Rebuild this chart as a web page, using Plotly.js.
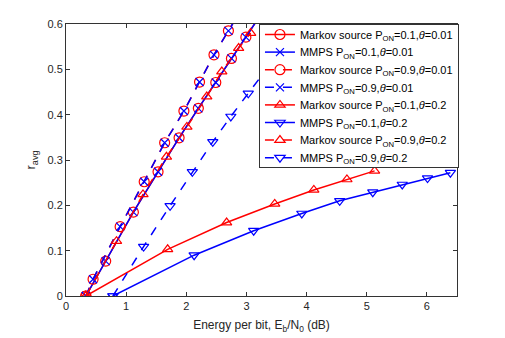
<!DOCTYPE html>
<html>
<head>
<meta charset="utf-8">
<script src="https://cdn.plot.ly/plotly-3.0.1.min.js"></script>
<style>
  body { margin: 0; background: #fff; }
  #graphDiv { width: 505px; height: 338px; }
</style>
</head>
<body>
<div id="graphDiv"></div>
<script>
// Markov source / MMPS, P_ON = 0.1, theta = 0.01 (solid)
var x_p1_t001 = [0.33, 0.66, 1.12, 1.53, 1.88, 2.20, 2.49, 2.75, 2.99, 3.21];
var y_p1_t001 = [0, 0.077, 0.185, 0.274, 0.349, 0.414, 0.471, 0.524, 0.571, 0.615];

// P_ON = 0.9, theta = 0.01 (dashed)
var x_p9_t001 = [0.33, 0.45, 0.90, 1.30, 1.64, 1.96, 2.22, 2.46, 2.70, 2.91];
var y_p9_t001 = [0, 0.037, 0.153, 0.252, 0.338, 0.408, 0.472, 0.532, 0.585, 0.631];

// Markov source P_ON = 0.1, theta = 0.2
var x_mk_p1_t02 = [0.33, 1.69, 2.67, 3.47, 4.12, 4.67, 5.13];
var y_mk_p1_t02 = [0, 0.103, 0.162, 0.203, 0.234, 0.257, 0.276];

// MMPS P_ON = 0.1, theta = 0.2
var x_mm_p1_t02 = [0.78, 2.13, 3.12, 3.92, 4.55, 5.10, 5.59, 6.01, 6.39];
var y_mm_p1_t02 = [0, 0.090, 0.144, 0.182, 0.210, 0.229, 0.246, 0.260, 0.272];

// Markov source P_ON = 0.9, theta = 0.2
var x_mk_p9_t02 = [0.33, 0.84, 1.28, 1.67, 2.01, 2.34, 2.59, 2.87, 3.07];
var y_mk_p9_t02 = [0, 0.121, 0.224, 0.307, 0.373, 0.440, 0.495, 0.547, 0.580];

// MMPS P_ON = 0.9, theta = 0.2
var x_mm_p9_t02 = [0.78, 1.29, 1.73, 2.10, 2.44, 2.74, 3.03, 3.33];
var y_mm_p9_t02 = [0, 0.109, 0.199, 0.274, 0.340, 0.396, 0.447, 0.50];

var RED = '#ff0000', BLUE = '#0000ff';

function tr(x, y, name, color, dash, symbol, size) {
    return {
        x: x, y: y, name: name, type: 'scatter', mode: 'lines+markers',
        line: {color: color, width: 1.5, dash: dash},
        marker: {symbol: symbol, size: size, color: color, line: {color: color, width: 1.2}}
    };
}

var data = [
    tr(x_p1_t001, y_p1_t001, 'Markov source P<sub>ON</sub>=0.1,<i>θ</i>=0.01', RED, 'solid', 'circle-open', 10),
    tr(x_p1_t001, y_p1_t001, 'MMPS P<sub>ON</sub>=0.1,<i>θ</i>=0.01', BLUE, 'solid', 'x-thin-open', 8),
    tr(x_p9_t001, y_p9_t001, 'Markov source P<sub>ON</sub>=0.9,<i>θ</i>=0.01', RED, 'dash', 'circle-open', 10),
    tr(x_p9_t001, y_p9_t001, 'MMPS P<sub>ON</sub>=0.9,<i>θ</i>=0.01', BLUE, 'dash', 'x-thin-open', 8),
    tr(x_mk_p1_t02, y_mk_p1_t02, 'Markov source P<sub>ON</sub>=0.1,<i>θ</i>=0.2', RED, 'solid', 'triangle-up-open', 9),
    tr(x_mm_p1_t02, y_mm_p1_t02, 'MMPS P<sub>ON</sub>=0.1,<i>θ</i>=0.2', BLUE, 'solid', 'triangle-down-open', 9),
    tr(x_mk_p9_t02, y_mk_p9_t02, 'Markov source P<sub>ON</sub>=0.9,<i>θ</i>=0.2', RED, 'dash', 'triangle-up-open', 9),
    tr(x_mm_p9_t02, y_mm_p9_t02, 'MMPS P<sub>ON</sub>=0.9,<i>θ</i>=0.2', BLUE, 'dash', 'triangle-down-open', 9)
];

var axisStyle = {
    showline: true, mirror: 'ticks', linecolor: '#333', linewidth: 1,
    ticks: 'inside', ticklen: 4, tickcolor: '#333',
    showgrid: false, zeroline: false,
    tickfont: {size: 11, color: '#262626'}
};

var layout = {
    width: 505, height: 338,
    margin: {l: 66, r: 48, t: 24, b: 42},
    paper_bgcolor: '#fff', plot_bgcolor: '#fff',
    font: {family: 'Liberation Sans, Arial, sans-serif', color: '#262626'},
    showlegend: true,
    xaxis: Object.assign({}, axisStyle, {
        range: [0, 6.5], tickvals: [0, 1, 2, 3, 4, 5, 6],
        title: {text: 'Energy per bit, E<sub>b</sub>/N<sub>0</sub> (dB)', font: {size: 12}, standoff: 9}
    }),
    yaxis: Object.assign({}, axisStyle, {
        range: [0, 0.6], tickvals: [0, 0.1, 0.2, 0.3, 0.4, 0.5, 0.6],
        title: {text: 'r<sub>avg</sub>', font: {size: 13}, standoff: 8}
    }),
    legend: {
        x: 1.005, xanchor: 'right', y: 1, yanchor: 'top',
        bgcolor: '#fff', bordercolor: '#333', borderwidth: 1,
        font: {size: 11, color: '#000'}, tracegroupgap: 0, itemwidth: 30
    }
};

Plotly.newPlot('graphDiv', data, layout, {displayModeBar: false}).then(function (gd) {
    // squeeze legend rows closer together, like the MATLAB legend
    var items = gd.querySelectorAll('.legend .traces');
    var step = 17.6, lift = 5, y0 = 0, lastY = 0;
    items.forEach(function (el, i) {
        var m = /translate\(([-\d.e]+)[ ,]+([-\d.e]+)\)/.exec(el.getAttribute('transform'));
        if (!m) return;
        var x = +m[1], y = +m[2];
        if (i === 0) y0 = y;
        lastY = y;
        el.setAttribute('transform', 'translate(' + x + ',' + (y0 - lift + i * step) + ')');
    });
    var shrink = lastY - (y0 + (items.length - 1) * step) + 2 * lift;
    var bg = gd.querySelector('.legend .bg');
    if (bg && shrink > 0) bg.setAttribute('height', +bg.getAttribute('height') - shrink);
});
</script>
</body>
</html>
